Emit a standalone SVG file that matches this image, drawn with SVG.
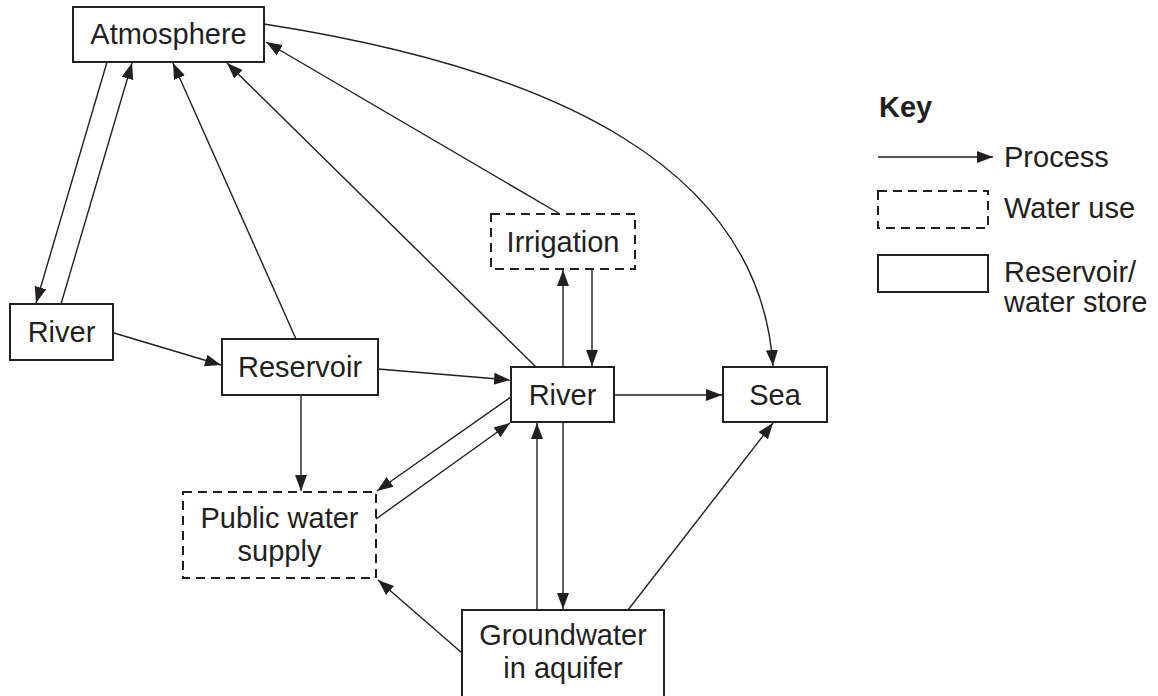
<svg xmlns="http://www.w3.org/2000/svg" width="1158" height="696" viewBox="0 0 1158 696">
<style>
.box{fill:#fff;stroke:#231f20;stroke-width:2}
.use{fill:#fff;stroke:#231f20;stroke-width:2;stroke-dasharray:9 6}
.lbl{font-family:"Liberation Sans",Arial,sans-serif;font-size:29px;fill:#231f20;text-anchor:middle}
.key{font-family:"Liberation Sans",Arial,sans-serif;font-size:29px;fill:#231f20}
.c{fill:none;stroke:#231f20;stroke-width:1.4;marker-end:url(#ah)}
</style>
<defs>
<marker id="ah" markerUnits="userSpaceOnUse" markerWidth="17" markerHeight="14" refX="16" refY="7" orient="auto">
<path d="M0,1 L16,7 L0,13 z" fill="#231f20"/>
</marker>
</defs>
<rect width="1158" height="696" fill="#fff"/>
<g id="connectors">
<line class="c" x1="107" y1="62" x2="36" y2="303"/>
<line class="c" x1="61" y1="304" x2="132" y2="63"/>
<line class="c" x1="296" y1="339" x2="173" y2="63"/>
<line class="c" x1="536" y1="367" x2="227" y2="63"/>
<line class="c" x1="560" y1="214" x2="266" y2="42"/>
<path class="c" d="M264,24 C560,70 760,170 773,366"/>
<line class="c" x1="114" y1="333" x2="221" y2="365"/>
<line class="c" x1="378" y1="369" x2="510" y2="380"/>
<line class="c" x1="563" y1="367" x2="563" y2="270"/>
<line class="c" x1="592" y1="269" x2="592" y2="366"/>
<line class="c" x1="614" y1="395" x2="722" y2="395"/>
<line class="c" x1="301" y1="395" x2="301" y2="491"/>
<line class="c" x1="511" y1="397" x2="377" y2="491"/>
<line class="c" x1="376" y1="519" x2="510" y2="423"/>
<line class="c" x1="537" y1="610" x2="537" y2="423"/>
<line class="c" x1="563" y1="422" x2="563" y2="609"/>
<line class="c" x1="628" y1="610" x2="773" y2="423"/>
<line class="c" x1="462" y1="653" x2="378" y2="580"/>
</g>
<g id="atmosphere"><rect class="box" x="73" y="7" width="191" height="55"/><text class="lbl" x="168.5" y="44">Atmosphere</text></g>
<g id="river-left"><rect class="box" x="10" y="304" width="103" height="56"/><text class="lbl" x="61.5" y="342">River</text></g>
<g id="reservoir"><rect class="box" x="222" y="339" width="156" height="56"/><text class="lbl" x="300" y="377">Reservoir</text></g>
<g id="irrigation"><rect class="use" x="491" y="214" width="144" height="55"/><text class="lbl" x="563" y="252">Irrigation</text></g>
<g id="river-centre"><rect class="box" x="511" y="367" width="103" height="55"/><text class="lbl" x="562.5" y="405">River</text></g>
<g id="sea"><rect class="box" x="723" y="367" width="104" height="55"/><text class="lbl" x="775" y="405">Sea</text></g>
<g id="public-water-supply"><rect class="use" x="183" y="492" width="193" height="86"/><text class="lbl" x="279.5" y="528">Public water</text><text class="lbl" x="279.5" y="561">supply</text></g>
<g id="groundwater"><rect class="box" x="462" y="610" width="202" height="90"/><text class="lbl" x="563" y="645">Groundwater</text><text class="lbl" x="563" y="678">in aquifer</text></g>
<g id="key">
<text class="key" x="879" y="117" font-weight="bold">Key</text>
<line class="c" x1="878" y1="157" x2="993" y2="157"/>
<text class="key" x="1004" y="167">Process</text>
<rect class="use" x="878" y="191" width="110" height="37"/>
<text class="key" x="1004" y="218">Water use</text>
<rect class="box" x="878" y="255" width="110" height="37"/>
<text class="key" x="1004" y="282">Reservoir/</text>
<text class="key" x="1004" y="312">water store</text>
</g>
</svg>
